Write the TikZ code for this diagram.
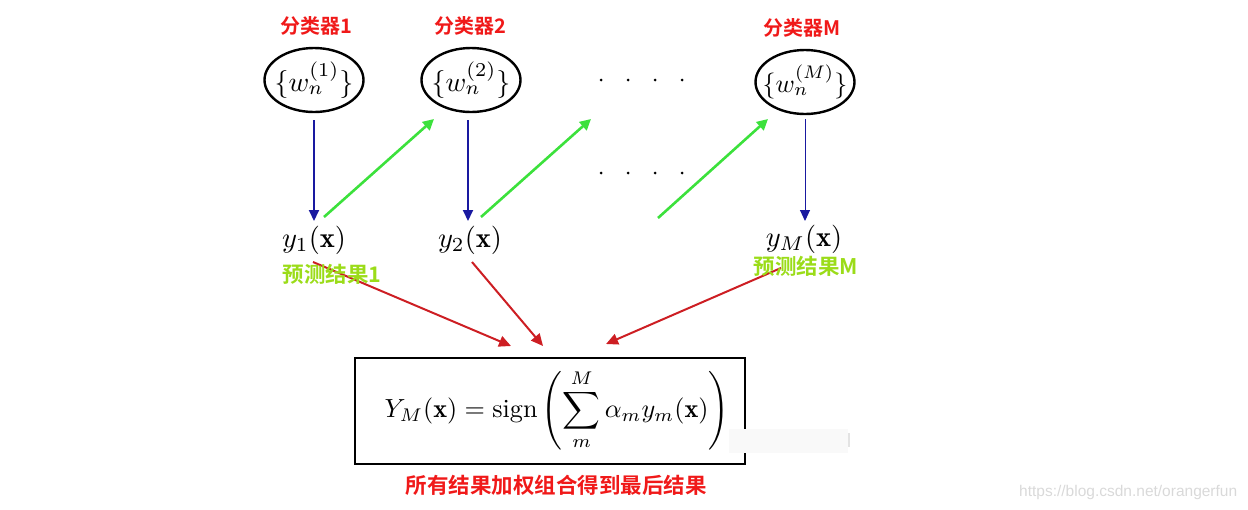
\documentclass[tikz,border=0pt]{standalone}
\usepackage{fontspec}
\usepackage{amsmath}
\newfontfamily\cjk{Noto Sans CJK SC}[BoldFont={Noto Sans CJK SC Bold}]
\newfontfamily\wm{Liberation Sans}
\usetikzlibrary{arrows.meta,shapes.geometric}
\definecolor{lblred}{RGB}{240,25,25}
\definecolor{lblgreen}{RGB}{155,220,25}
\definecolor{arrblue}{RGB}{25,25,160}
\definecolor{arrgreen}{RGB}{60,225,60}
\definecolor{arrred}{RGB}{205,30,35}
\tikzset{
  clsname/.style={font=\cjk\bfseries\fontsize{20}{24}\selectfont, text=lblred, inner sep=0pt},
  predname/.style={font=\cjk\bfseries\fontsize{21.5}{25}\selectfont, text=lblgreen, inner sep=0pt},
  wnode/.style={ellipse, draw=black, line width=2.4pt, minimum width=99pt, minimum height=64pt, inner sep=-8pt},
  mathlbl/.style={scale=2.85, inner sep=0pt},
  bluearr/.style={draw=arrblue, line width=2pt, -{Triangle[length=11pt,width=10pt]}, color=arrblue},
  greenarr/.style={draw=arrgreen, line width=2.6pt, -{Triangle[length=11pt,width=11pt]}},
  redarr/.style={draw=arrred, line width=2pt, -{Triangle[length=12pt,width=11pt]}},
  dotc/.style={circle, fill=black, inner sep=0pt, minimum size=3pt},
}
\begin{document}
\begin{tikzpicture}[x=1pt,y=-1pt]
\useasboundingbox (0,0) rectangle (1248,509);
% classifier labels
\node[clsname] (c1) at (316,26) {分类器1};
\node[clsname] (c2) at (470,26) {分类器2};
\node[clsname] (cM) at (802,28) {分类器M};
% ellipses
\node[wnode] (w1) at (314,80) {\scalebox{2.8}{$\{w_n^{(1)}\}$}};
\node[wnode] (w2) at (471,80) {\scalebox{2.8}{$\{w_n^{(2)}\}$}};
\node[wnode] (wM) at (805,82) {\scalebox{2.6}{$\{w_n^{(M)}\}$}};
% dots
\foreach \i/\x in {1/601,2/628,3/655,4/682}{
  \node[dotc] (da\i) at (\x,80) {};
  \node[dotc] (db\i) at (\x,173) {};
}
% y nodes
\node[mathlbl] (y1) at (314,240) {$y_1(\mathbf{x})$};
\node[mathlbl] (y2) at (470,240) {$y_2(\mathbf{x})$};
\node[mathlbl] (yM) at (804,239) {$y_M(\mathbf{x})$};
% coordinates
\coordinate (b1s) at (314,120); \coordinate (b1e) at (314,221);
\coordinate (b2s) at (468,120); \coordinate (b2e) at (468,221);
\coordinate (bMs) at (805,119); \coordinate (bMe) at (805,221);
\draw[bluearr] (b1s) -- (b1e);
\draw[bluearr] (b2s) -- (b2e);
\draw[bluearr, line width=1pt] (bMs) -- (bMe);
\coordinate (g1s) at (324,217); \coordinate (g1e) at (434,119);
\coordinate (g2s) at (481,217); \coordinate (g2e) at (591,119);
\coordinate (g3s) at (658,218); \coordinate (g3e) at (768,119);
\draw[greenarr] (g1s) -- (g1e);
\draw[greenarr] (g2s) -- (g2e);
\draw[greenarr] (g3s) -- (g3e);
% result box
\node[draw=black, line width=2pt, minimum width=390pt, minimum height=106pt, inner sep=0pt] (box) at (550,411) {};
\node[scale=2.62, inner sep=0pt] (formula) at (557,410)
  {$\displaystyle Y_M(\mathbf{x}) = \operatorname{sign}\left(\sum_{m}^{M}\alpha_m y_m(\mathbf{x})\right)$};
% red arrows
\coordinate (r1s) at (313,262); \coordinate (r1e) at (511,346);
\coordinate (r2s) at (472,262); \coordinate (r2e) at (543,346);
\coordinate (r3s) at (781,268); \coordinate (r3e) at (606,344);
\draw[redarr] (r1s) -- (r1e);
\draw[redarr] (r2s) -- (r2e);
\draw[redarr] (r3s) -- (r3e);
% prediction labels
\node[predname] (p1) at (332,274) {预测结果1};
\node[predname] (pM) at (806,266) {预测结果M};
% bottom label
\node[clsname, font=\cjk\bfseries\fontsize{21.5}{25}\selectfont] (final) at (556,485) {所有结果加权组合得到最后结果};
% faint artifact
\fill[gray!5] (729,429) rectangle (848,453);
\fill[gray!22] (848,433) rectangle (849.5,447);
% watermark
\node[font=\wm\fontsize{15.5}{18}\selectfont, text=gray!30, anchor=west, inner sep=0pt] (wmk) at (1019,492) {https://blog.csdn.net/orangerfun};
\end{tikzpicture}
\end{document}
